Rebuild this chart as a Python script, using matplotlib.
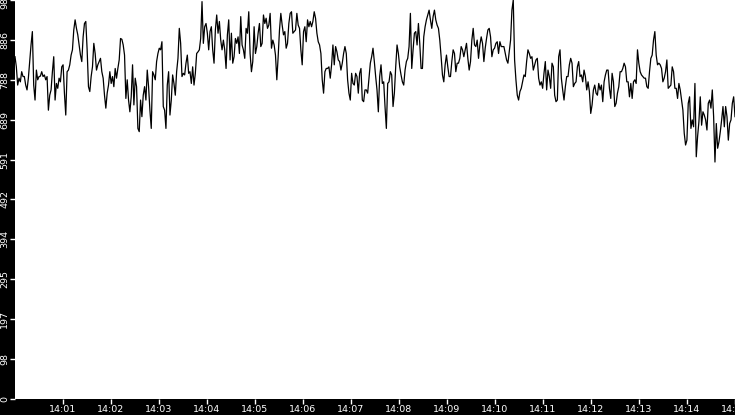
import matplotlib
matplotlib.use('Agg')
import matplotlib.pyplot as plt
import numpy as np

# readings over 14:00 - 14:15, evenly spaced samples
part1 = [845, 820, 775, 792, 783, 808, 796, 796, 775, 763, 792, 833, 874, 907, 775, 738,
         812, 788, 796, 797, 808, 796, 800, 788, 796, 713, 750, 763, 808, 845, 738, 779,
         767, 792, 783, 820, 825, 755, 701, 808, 812, 825, 849, 862, 911, 936, 915, 899,
         874, 849, 833, 894, 927, 932, 862, 771, 759, 796, 820, 878, 853, 812, 825, 833,
         841, 808, 792, 750, 718, 755, 775, 808, 779, 796, 771, 816, 792, 816]
part2 = [837, 890, 888, 874, 849, 742, 788, 738, 709, 746, 825, 726, 792, 771, 668, 660,
         738, 697, 750, 771, 738, 812, 771, 713, 668, 808, 800, 788, 833, 853, 866, 862,
         882, 722, 713, 668, 775, 808, 701, 738, 800, 779, 750, 808, 841, 915, 878, 796,
         804, 800, 829, 849, 804, 808, 779, 820, 775, 804, 853, 857, 862, 890, 981, 878,
         919, 927, 903, 862, 907, 919, 862, 829, 911, 948, 903, 932, 886, 862]
part3 = [886, 862, 816, 899, 936, 837, 903, 829, 845, 890, 878, 894, 853, 944, 874, 862,
         841, 915, 903, 956, 853, 808, 833, 919, 853, 870, 903, 927, 870, 878, 948, 927,
         940, 915, 923, 952, 866, 886, 874, 849, 788, 845, 911, 952, 923, 899, 907, 866,
         878, 927, 952, 956, 903, 907, 911, 952, 923, 915, 862, 825, 907, 919, 882, 936,
         919, 932, 919, 932, 956, 940, 903, 882, 874, 853, 788, 755, 808, 816]
part4 = [816, 820, 792, 825, 874, 825, 870, 857, 837, 833, 812, 829, 853, 870, 853, 788,
         755, 738, 804, 779, 775, 804, 796, 755, 804, 816, 738, 734, 763, 763, 755, 792,
         829, 845, 866, 833, 796, 763, 709, 796, 825, 779, 783, 722, 668, 779, 783, 808,
         800, 722, 755, 820, 874, 853, 820, 800, 783, 775, 812, 833, 841, 870, 952, 816,
         862, 903, 907, 874, 927, 878, 816, 816, 894, 919, 936, 948, 960, 936]
part5 = [915, 944, 960, 936, 923, 915, 886, 845, 800, 783, 825, 849, 820, 796, 796, 833,
         862, 853, 808, 829, 829, 841, 870, 862, 845, 862, 878, 841, 812, 833, 886, 915,
         874, 870, 886, 841, 874, 894, 878, 833, 866, 890, 911, 915, 894, 845, 862, 866,
         878, 882, 853, 882, 870, 870, 870, 853, 837, 829, 857, 886, 960, 985, 837, 788,
         750, 738, 759, 767, 783, 800, 796, 833, 862, 853, 841, 845, 812, 825]
part6 = [837, 841, 792, 775, 783, 767, 804, 833, 763, 812, 796, 767, 829, 820, 750, 734,
         738, 845, 862, 792, 763, 738, 771, 796, 796, 825, 841, 829, 771, 779, 783, 820,
         833, 796, 800, 783, 812, 796, 763, 783, 759, 705, 726, 763, 775, 755, 750, 779,
         763, 775, 734, 783, 800, 812, 812, 767, 742, 804, 783, 722, 730, 755, 771, 808,
         808, 816, 829, 820, 783, 783, 746, 779, 742, 783, 788, 779, 862, 829]
part7 = [808, 800, 796, 792, 792, 771, 767, 808, 841, 849, 886, 907, 849, 825, 829, 825,
         816, 783, 792, 808, 837, 767, 771, 775, 820, 808, 767, 767, 742, 779, 763, 738,
         713, 656, 627, 639, 730, 746, 668, 689, 672, 779, 598, 648, 685, 746, 676, 709,
         701, 689, 664, 730, 738, 718, 763, 697, 585, 680, 619, 635, 660, 689, 722, 672,
         722, 697, 639, 680, 689, 730, 746, 697]
values = part1 + part2 + part3 + part4 + part5 + part6 + part7

y_max = 985
minute_labels = ['14:%02d' % m for m in range(1, 16)]

minutes = np.linspace(0, 15, len(values))

fig = plt.figure(figsize=(7.35, 4.15), dpi=100, facecolor='black')
ax = fig.add_axes([15 / 735, 16 / 415, 720 / 735, 399 / 415])
ax.set_facecolor('white')
ax.plot(minutes, values, color='black', linewidth=0.9)

ax.set_xlim(0, 15)
ax.set_ylim(0, y_max)

yt = [k * y_max / 10 for k in range(11)]
ax.set_yticks(yt)
ax.set_yticklabels([str(int(v)) for v in yt], rotation=90, va='center')
ax.set_xticks(range(1, 16))
ax.set_xticklabels(minute_labels)

ax.tick_params(colors='white', labelsize=6.8, length=3.5, width=1, pad=0.6)
for s in ax.spines.values():
    s.set_visible(False)

fig.savefig('out.png', dpi=100, facecolor='black')
